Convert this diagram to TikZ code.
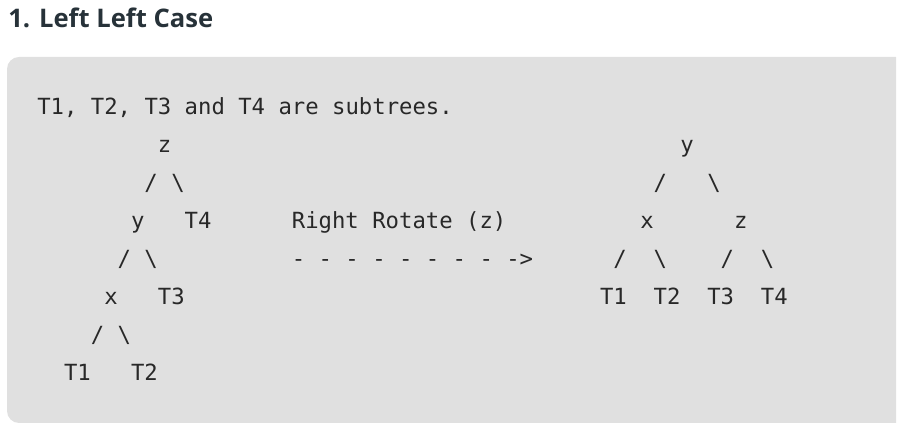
\documentclass[tikz,border=0pt]{standalone}
\usepackage{fontspec}
\newfontfamily\codefont{DejaVu Sans Mono}
\newfontfamily\headfont{Open Sans}
\definecolor{boxgray}{RGB}{224,224,224}
\definecolor{codetext}{RGB}{40,40,40}
\definecolor{headtext}{RGB}{39,50,57}

\begin{document}
\begin{tikzpicture}[x=0.75pt,y=-0.75pt]
    \useasboundingbox (0,0) rectangle (897,427);
    \node[anchor=base west, inner sep=0, text=headtext, font=\headfont\bfseries\fontsize{19.2}{23}\selectfont] (title) at (8,28) {1. Left Left Case};
    \begin{scope}
        \clip (0,0) rectangle (896,427);
        \fill[boxgray, rounded corners=9pt] (7,57) rectangle (920,423);
    \end{scope}
    \begin{scope}[x=10.05pt, y=-28.5pt, shift={(27.75pt,-85.875pt)},
        every node/.style={anchor=base west, inner sep=0, text=codetext, font=\codefont\fontsize{16.7}{20}\selectfont}]
        \node (note) at (0,0) {T1, T2, T3 and T4 are subtrees.};
        % before: z at the top
        \node (lz) at (9,1) {z};
        \node (lzl) at (8,2) {/};
        \node (lzr) at (10,2) {\textbackslash};
        \node (ly) at (7,3) {y};
        \node (lT4) at (11,3) {T4};
        \node (lyl) at (6,4) {/};
        \node (lyr) at (8,4) {\textbackslash};
        \node (lx) at (5,5) {x};
        \node (lT3) at (9,5) {T3};
        \node (lxl) at (4,6) {/};
        \node (lxr) at (6,6) {\textbackslash};
        \node (lT1) at (2,7) {T1};
        \node (lT2) at (7,7) {T2};
        % the rotation
        \node (rot) at (19,3) {Right Rotate (z)};
        \node (arr) at (19,4) {- - - - - - - - ->};
        % after: y at the top
        \node (ry) at (48,1) {y};
        \node (ryl) at (46,2) {/};
        \node (ryr) at (50,2) {\textbackslash};
        \node (rx) at (45,3) {x};
        \node (rz) at (52,3) {z};
        \node (rxl) at (43,4) {/};
        \node (rxr) at (46,4) {\textbackslash};
        \node (rzl) at (51,4) {/};
        \node (rzr) at (54,4) {\textbackslash};
        \node (rT1) at (42,5) {T1};
        \node (rT2) at (46,5) {T2};
        \node (rT3) at (50,5) {T3};
        \node (rT4) at (54,5) {T4};
    \end{scope}
\end{tikzpicture}
\end{document}
